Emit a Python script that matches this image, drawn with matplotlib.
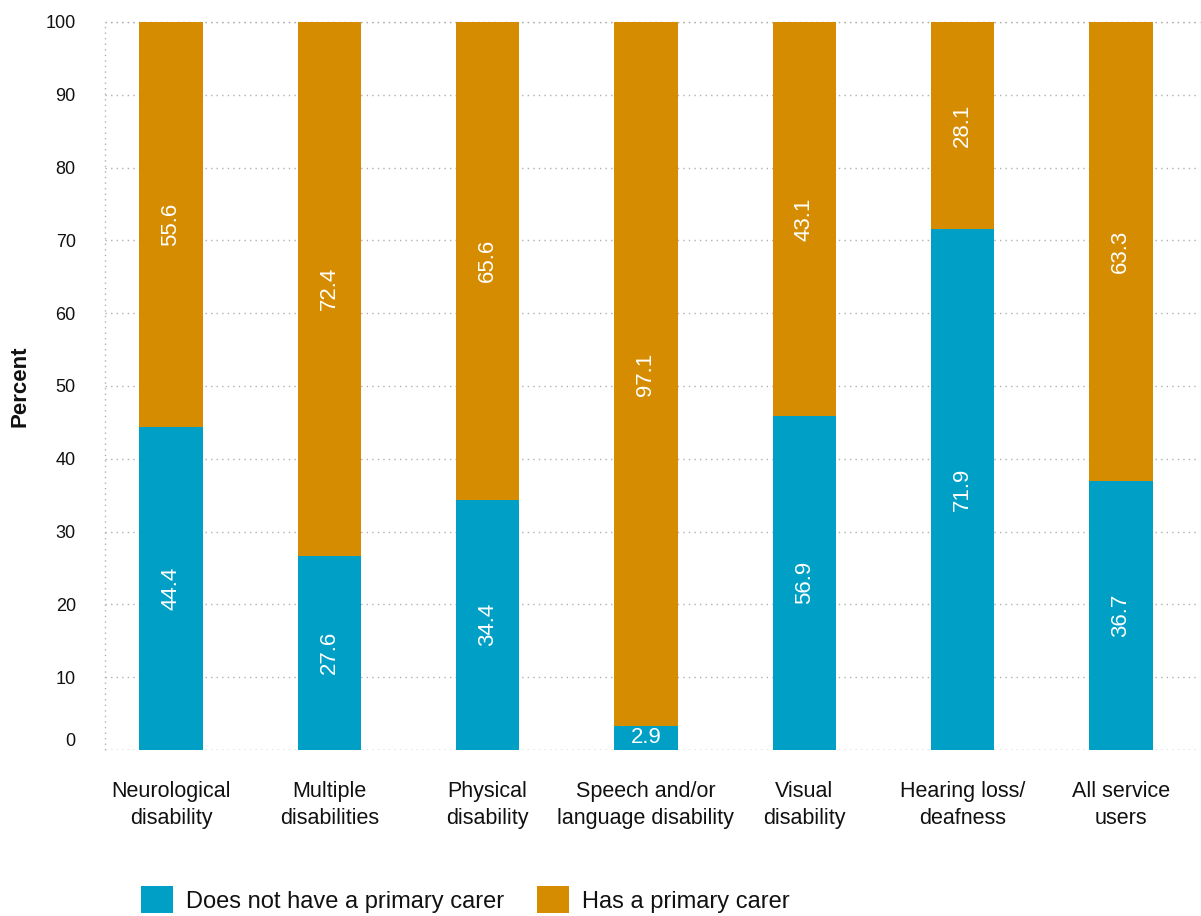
import matplotlib
matplotlib.use("Agg")
import matplotlib.pyplot as plt
from matplotlib.patches import Patch

plt.rcParams['font.family'] = ['Liberation Sans', 'DejaVu Sans']

categories = ["Neurological\ndisability", "Multiple\ndisabilities", "Physical\ndisability",
              "Speech and/or\nlanguage disability", "Visual\ndisability",
              "Hearing loss/\ndeafness", "All service\nusers"]
# bar heights as drawn in the reference
no_carer = [44.4, 26.7, 34.4, 3.3, 45.9, 71.5, 36.9]
has_carer = [55.6, 73.3, 65.6, 96.7, 54.1, 28.5, 63.1]
# value labels as printed in the reference
no_carer_labels = ["44.4", "27.6", "34.4", "2.9", "56.9", "71.9", "36.7"]
has_carer_labels = ["55.6", "72.4", "65.6", "97.1", "43.1", "28.1", "63.3"]
series_names = ["Does not have a primary carer", "Has a primary carer"]
yticks = [0, 10, 20, 30, 40, 50, 60, 70, 80, 90, 100]

BLUE = '#00A0C6'
ORANGE = '#D68C00'
TXT = '#111111'

fig = plt.figure(figsize=(12.01, 9.16), dpi=100)
W, H = 1201, 916
ax = fig.add_axes([105 / W, 1 - 750 / H, (1200 - 105) / W, (750 - 22) / H])

x = list(range(len(categories)))
bw = 0.40
ax.bar(x, no_carer, width=bw, color=BLUE, zorder=3)
ax.bar(x, has_carer, width=bw, bottom=no_carer, color=ORANGE, zorder=3)

for i in x:
    a, b = no_carer[i], has_carer[i]
    if a < 6:
        ax.text(i, a / 2, no_carer_labels[i], ha='center', va='center', color='white',
                fontsize=16, zorder=4)
    else:
        ax.text(i, a / 2, no_carer_labels[i], ha='center', va='center', color='white',
                fontsize=16, rotation=90, zorder=4)
    ax.text(i, a + b / 2, has_carer_labels[i], ha='center', va='center', color='white',
            fontsize=16, rotation=90, zorder=4)

ax.set_xlim(-0.417, 6.5)
ax.set_ylim(0, 100)
ax.set_yticks(yticks)
ax.set_yticklabels([str(t) for t in yticks])
ax.set_xticks(x)
ax.set_xticklabels(categories, fontsize=15.5, color=TXT, linespacing=1.42)
ax.tick_params(axis='y', length=0, pad=21, labelsize=13, labelcolor=TXT)
ax.tick_params(axis='x', length=0, pad=22)
ax.get_yticklabels()[0].set_va('bottom')

for s in ax.spines.values():
    s.set_visible(False)
dot = dict(linestyle=(0, (1, 3)), color='#B0B0B0', linewidth=1, zorder=0)
ax.grid(axis='y', **dot)
ax.axvline(-0.417, clip_on=False, **dot)
ax.axhline(0, **dot)
ax.axhline(100, clip_on=False, **dot)

ax.set_ylabel("Percent", fontsize=16, fontweight='bold', color=TXT)
ax.yaxis.set_label_coords(-0.068, 0.5)

handles = [Patch(facecolor=BLUE), Patch(facecolor=ORANGE)]
fig.legend(handles, series_names, loc='lower left', bbox_to_anchor=(141 / W, 3 / H),
           ncol=2, frameon=False, fontsize=17, handlelength=1.36, handleheight=1.35,
           handletextpad=0.55, columnspacing=1.4, borderpad=0, borderaxespad=0,
           labelcolor=TXT)

fig.savefig("out.png", dpi=100)
